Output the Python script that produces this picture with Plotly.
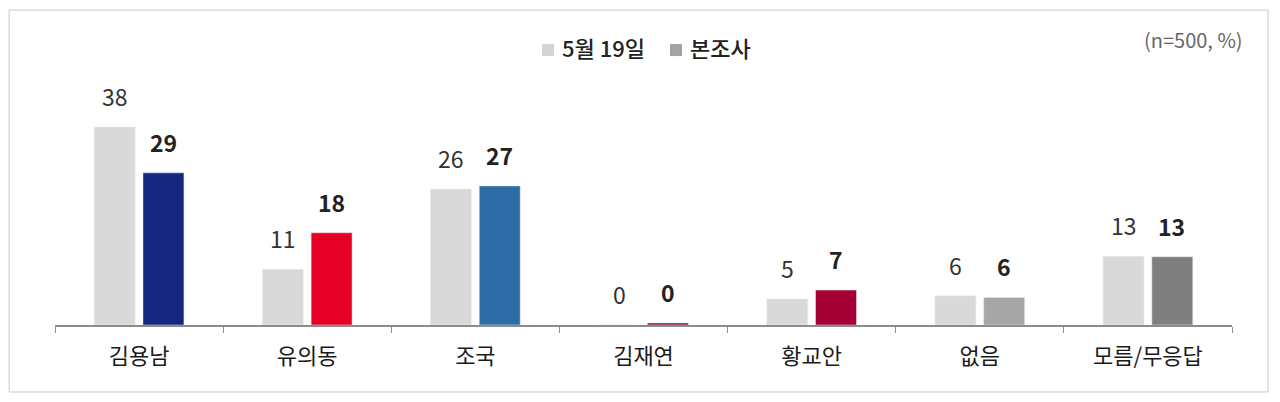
import plotly.graph_objects as go

# categories and survey values (%)
candidates = ['김용남', '유의동', '조국', '김재연', '황교안', '없음', '모름/무응답']
prev_vals = [38.0, 10.7, 26.1, 0.0, 5.0, 5.6, 13.2]   # 5월 19일
curr_vals = [29.2, 17.7, 26.7, 0.4, 6.7, 5.3, 13.1]   # 본조사
prev_labels = ['38', '11', '26', '0', '5', '6', '13']
curr_labels = ['29', '18', '27', '0', '7', '6', '13']
curr_colors = ['#152680', '#E60026', '#2E6CA6', '#8C1A3A', '#A50034', '#A6A6A6', '#7F7F7F']
legend_names = ['5월 19일', '본조사']
legend_colors = ['#D4D4D4', '#A3A3A3']

font_kr = 'Noto Sans CJK KR'

fig = go.Figure()

fig.add_trace(go.Bar(x=candidates, y=prev_vals, name=legend_names[0],
                     marker=dict(color='#D9D9D9'), showlegend=False))
fig.add_trace(go.Bar(x=candidates, y=curr_vals, name=legend_names[1],
                     marker=dict(color=curr_colors), showlegend=False))

# value labels above bars
for cat, v, lab in zip(candidates, prev_vals, prev_labels):
    fig.add_annotation(x=cat, y=v, text=lab, showarrow=False, xshift=-24,
                       yanchor='bottom', yshift=12,
                       font=dict(family=font_kr, size=23, color='#333333'))
for cat, v, lab in zip(candidates, curr_vals, curr_labels):
    fig.add_annotation(x=cat, y=v, text='<b>' + lab + '</b>', showarrow=False, xshift=24,
                       yanchor='bottom', yshift=12,
                       font=dict(family=font_kr, size=23, color='#222222'))

# hand-made legend: square + label
for name, col, sx, tx in zip(legend_names, legend_colors, [0.4189, 0.5276], [0.4290, 0.5378]):
    fig.add_shape(type='rect', xref='paper', yref='paper',
                  xsizemode='pixel', ysizemode='pixel',
                  xanchor=sx, yanchor=1.170, x0=-6, x1=6, y0=-6, y1=6,
                  line=dict(width=0), fillcolor=col)
    fig.add_annotation(xref='paper', yref='paper', x=tx, y=1.183, text=name,
                       showarrow=False, xanchor='left', yanchor='middle',
                       font=dict(family=font_kr, size=22, color='#222222', weight=500))

fig.add_annotation(xref='paper', yref='paper', x=1.011, y=1.213, text='(n=500, %)',
                   showarrow=False, xanchor='right', yanchor='middle',
                   font=dict(family=font_kr, size=20, color='#666666'))

# outer frame
fig.add_shape(type='rect', xref='paper', yref='paper',
              x0=-0.039, x1=1.0306, y0=-0.285, y1=1.340,
              line=dict(color='#C8C8C8', width=1), fillcolor='rgba(0,0,0,0)')

fig.update_layout(
    width=1272, height=394,
    margin=dict(l=47, r=48, t=82, b=77),
    paper_bgcolor='white', plot_bgcolor='white',
    barmode='group', bargap=0.42, bargroupgap=0.16,
    font=dict(family=font_kr, color='#222222'),
    showlegend=False,
    xaxis=dict(showline=True, linecolor='#8C8C8C', linewidth=1.5,
               ticks='outside', tickson='boundaries', ticklen=6, tickcolor='#8C8C8C',
               tickfont=dict(family=font_kr, size=22, color='#1A1A1A'),
               ticklabelstandoff=11, showgrid=False),
    yaxis=dict(range=[0, 45.1], visible=False, showgrid=False, zeroline=False),
)

fig.write_html('out.html')
